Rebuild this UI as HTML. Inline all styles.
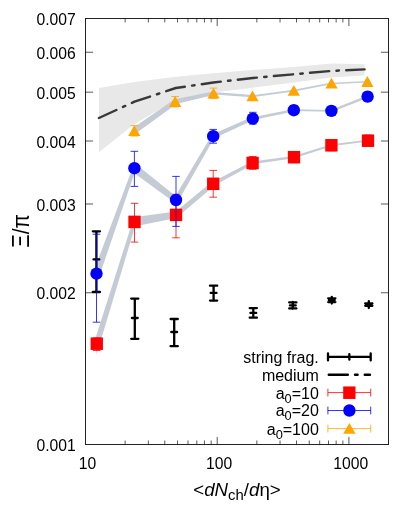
<!DOCTYPE html>
<html><head><meta charset="utf-8"><title>chart</title>
<style>html,body{margin:0;padding:0;background:#fff;}body{width:415px;height:519px;overflow:hidden;font-family:"Liberation Sans",sans-serif;}svg{display:block;will-change:transform;}</style></head>
<body>
<svg width="415" height="519" viewBox="0 0 415 519" font-family="'Liberation Sans', sans-serif" font-size="15.7" fill="#000">
<rect width="415" height="519" fill="#fff"/>
<polygon points="98.9,87.9 134.5,82.0 175.8,76.8 213.3,73.3 252.8,70.1 293.6,66.9 331.6,63.5 364.6,64.2 364.6,75.2 331.6,77.5 293.6,82.6 252.8,87.7 213.3,92.5 175.8,99.8 134.5,124.0 98.9,152.3" fill="#e8e8e8" fill-opacity="1"/>
<polygon points="99.57,344.46 136.32,222.36 132.68,221.24 94.03,342.74" fill="#c5cbd5"/>
<polygon points="135.25,226.24 176.54,218.00 175.46,211.60 133.75,217.36" fill="#c5cbd5"/>
<polygon points="177.73,216.87 214.61,185.39 211.79,182.01 174.27,212.73" fill="#c5cbd5"/>
<polygon points="214.13,185.47 253.35,164.31 251.85,161.49 212.27,181.93" fill="#c5cbd5"/>
<polygon points="252.79,164.29 294.17,158.29 293.83,155.91 252.41,161.51" fill="#c5cbd5"/>
<polygon points="294.35,158.20 331.73,146.25 331.07,144.15 293.65,156.00" fill="#c5cbd5"/>
<polygon points="331.52,146.19 368.12,141.54 367.88,139.66 331.28,144.21" fill="#c5cbd5"/>
<polygon points="96.2,348 97.8,348 96.7,355.6" fill="#c5cbd5"/>
<polygon points="99.79,274.78 136.00,168.78 132.80,167.62 93.21,272.42" fill="#c5cbd5"/>
<polygon points="131.91,171.46 174.24,202.30 177.76,197.70 136.89,164.94" fill="#c5cbd5"/>
<polygon points="178.16,201.26 214.75,137.11 211.65,135.29 173.84,198.74" fill="#c5cbd5"/>
<polygon points="214.09,138.21 253.47,120.11 252.13,117.09 212.31,134.19" fill="#c5cbd5"/>
<polygon points="253.08,119.97 294.05,111.42 293.55,108.98 252.52,117.23" fill="#c5cbd5"/>
<polygon points="293.78,111.10 331.38,111.80 331.42,110.00 293.82,109.30" fill="#c5cbd5"/>
<polygon points="331.82,111.97 368.02,97.67 367.18,95.53 330.98,109.83" fill="#c5cbd5"/>
<polygon points="136.10,133.33 176.65,103.74 173.75,99.66 132.50,128.27" fill="#c5cbd5"/>
<polygon points="175.71,104.04 213.87,95.01 213.13,91.59 174.69,99.36" fill="#c5cbd5"/>
<polygon points="213.41,94.60 252.42,97.20 252.58,95.00 213.59,92.00" fill="#c5cbd5"/>
<polygon points="252.63,97.09 293.92,91.49 293.68,89.71 252.37,95.11" fill="#c5cbd5"/>
<polygon points="293.96,91.43 331.65,84.19 331.35,82.61 293.64,89.77" fill="#c5cbd5"/>
<polygon points="331.54,84.15 367.43,82.40 367.37,81.00 331.46,82.65" fill="#c5cbd5"/>
<path d="M96.4 231.3V292.0M92.8 231.3H100.0M92.8 292.0H100.0M93.5 259.4H99.3" stroke="#000" stroke-width="2.3" stroke-linecap="round" fill="none"/>
<path d="M134.8 298.6V338.8M131.2 298.6H138.4M131.2 338.8H138.4M131.9 318.0H137.7" stroke="#000" stroke-width="2.3" stroke-linecap="round" fill="none"/>
<path d="M174.2 319.0V346.2M170.6 319.0H177.8M170.6 346.2H177.8M171.3 332.0H177.1" stroke="#000" stroke-width="2.3" stroke-linecap="round" fill="none"/>
<path d="M213.6 285.7V300.6M210.0 285.7H217.2M210.0 300.6H217.2M210.7 292.9H216.5" stroke="#000" stroke-width="2.3" stroke-linecap="round" fill="none"/>
<path d="M253.3 308.1V317.7M249.7 308.1H256.9M249.7 317.7H256.9M250.4 312.9H256.2" stroke="#000" stroke-width="2.3" stroke-linecap="round" fill="none"/>
<path d="M292.8 302.0V308.8M289.2 302.4H296.4M289.2 308.4H296.4M289.9 305.4H295.7" stroke="#000" stroke-width="2.3" stroke-linecap="round" fill="none"/>
<path d="M331.8 296.8V303.6M328.2 298.3H335.4M328.2 302.1H335.4M328.9 300.2H334.7" stroke="#000" stroke-width="2.3" stroke-linecap="round" fill="none"/>
<path d="M368.8 301.2V308.0M365.2 303.4H372.4M365.2 305.8H372.4M365.9 304.6H371.7" stroke="#000" stroke-width="2.3" stroke-linecap="round" fill="none"/>
<path d="M98.9 118.0 L134.5 101.7 L175.8 88.0 L213.3 82.5 L252.8 78.0 L293.6 74.3 L331.6 70.9 L364.6 69.4" stroke="#383838" stroke-width="2.45" fill="none" stroke-linecap="round" stroke-linejoin="round" stroke-dasharray="19.2 7.3 2.5 7.3"/>
<path d="M96.8 337.8V350.5M93.0 337.8H100.6M93.0 350.5H100.6" stroke="#ff0000" stroke-width="0.8" fill="none"/>
<rect x="90.65" y="337.45" width="12.3" height="12.5" fill="#ff0000"/>
<path d="M134.5 203.3V242.1M130.7 203.3H138.3M130.7 242.1H138.3" stroke="#ff0000" stroke-width="0.8" fill="none"/>
<rect x="128.35" y="215.65" width="12.3" height="12.5" fill="#ff0000"/>
<path d="M176.0 194.3V237.8M172.2 194.3H179.8M172.2 237.8H179.8" stroke="#ff0000" stroke-width="0.8" fill="none"/>
<rect x="169.85" y="208.65" width="12.3" height="12.5" fill="#ff0000"/>
<path d="M213.2 170.4V197.2M209.4 170.4H217.0M209.4 197.2H217.0" stroke="#ff0000" stroke-width="0.8" fill="none"/>
<rect x="207.05" y="177.55" width="12.3" height="12.5" fill="#ff0000"/>
<path d="M252.6 156.5V169.3M248.8 156.5H256.4M248.8 169.3H256.4" stroke="#ff0000" stroke-width="0.8" fill="none"/>
<rect x="246.45" y="156.75" width="12.3" height="12.5" fill="#ff0000"/>
<path d="M294.0 151.6V162.6M290.2 151.6H297.8M290.2 162.6H297.8" stroke="#ff0000" stroke-width="0.8" fill="none"/>
<rect x="287.85" y="150.95" width="12.3" height="12.5" fill="#ff0000"/>
<path d="M331.4 139.7V150.7M327.6 139.7H335.2M327.6 150.7H335.2" stroke="#ff0000" stroke-width="0.8" fill="none"/>
<rect x="325.25" y="139.05" width="12.3" height="12.5" fill="#ff0000"/>
<path d="M368.0 135.1V146.1M364.2 135.1H371.8M364.2 146.1H371.8" stroke="#ff0000" stroke-width="0.8" fill="none"/>
<rect x="361.85" y="134.45" width="12.3" height="12.5" fill="#ff0000"/>
<path d="M96.5 234.2V322.2M92.7 234.2H100.3M92.7 322.2H100.3" stroke="#0000ff" stroke-width="0.8" fill="none"/>
<circle cx="96.5" cy="273.6" r="6.2" fill="#0000ff"/>
<path d="M134.4 151.3V186.4M130.6 151.3H138.2M130.6 186.4H138.2" stroke="#0000ff" stroke-width="0.8" fill="none"/>
<circle cx="134.4" cy="168.2" r="6.2" fill="#0000ff"/>
<path d="M176.0 176.4V226.4M172.2 176.4H179.8M172.2 226.4H179.8" stroke="#0000ff" stroke-width="0.8" fill="none"/>
<circle cx="176.0" cy="200.0" r="6.2" fill="#0000ff"/>
<path d="M213.2 129.4V143.2M209.4 129.4H217.0M209.4 143.2H217.0" stroke="#0000ff" stroke-width="0.8" fill="none"/>
<circle cx="213.2" cy="136.2" r="6.2" fill="#0000ff"/>
<path d="M252.8 112.3V124.0M249.0 112.3H256.6M249.0 124.0H256.6" stroke="#0000ff" stroke-width="0.8" fill="none"/>
<circle cx="252.8" cy="118.6" r="6.2" fill="#0000ff"/>
<path d="M293.8 105.7V114.7M290.0 105.7H297.6M290.0 114.7H297.6" stroke="#0000ff" stroke-width="0.8" fill="none"/>
<circle cx="293.8" cy="110.2" r="6.2" fill="#0000ff"/>
<path d="M331.4 106.4V115.4M327.6 106.4H335.2M327.6 115.4H335.2" stroke="#0000ff" stroke-width="0.8" fill="none"/>
<circle cx="331.4" cy="110.9" r="6.2" fill="#0000ff"/>
<path d="M367.6 92.1V101.1M363.8 92.1H371.4M363.8 101.1H371.4" stroke="#0000ff" stroke-width="0.8" fill="none"/>
<circle cx="367.6" cy="96.6" r="6.2" fill="#0000ff"/>
<path d="M134.3 125.6V136.0M130.5 125.6H138.1M130.5 136.0H138.1" stroke="#ffa500" stroke-width="0.8" fill="none"/>
<polygon points="134.3,125.2 140.4,136.0 128.2,136.0" fill="#ffa500"/>
<path d="M175.2 96.5V106.9M171.4 96.5H179.0M171.4 106.9H179.0" stroke="#ffa500" stroke-width="0.8" fill="none"/>
<polygon points="175.2,96.1 181.3,106.9 169.1,106.9" fill="#ffa500"/>
<path d="M213.5 88.1V98.5M209.7 88.1H217.3M209.7 98.5H217.3" stroke="#ffa500" stroke-width="0.8" fill="none"/>
<polygon points="213.5,87.7 219.6,98.5 207.4,98.5" fill="#ffa500"/>
<polygon points="252.5,90.5 258.6,101.3 246.4,101.3" fill="#ffa500"/>
<polygon points="293.8,85.0 299.9,95.8 287.7,95.8" fill="#ffa500"/>
<polygon points="331.5,77.8 337.6,88.6 325.4,88.6" fill="#ffa500"/>
<polygon points="367.4,76.1 373.5,86.9 361.3,86.9" fill="#ffa500"/>
<rect x="85.5" y="18.5" width="303.0" height="426.0" fill="none" stroke="#222" stroke-width="1"/>
<path d="M85.5 292.76h7.6M388.5 292.76h-7.6M85.5 203.99h7.6M388.5 203.99h-7.6M85.5 141.01h7.6M388.5 141.01h-7.6M85.5 92.16h7.6M388.5 92.16h-7.6M85.5 52.25h7.6M388.5 52.25h-7.6M125.15 444.5v-4M125.15 18.5v4M148.34 444.5v-4M148.34 18.5v4M164.79 444.5v-4M164.79 18.5v4M177.55 444.5v-4M177.55 18.5v4M187.98 444.5v-4M187.98 18.5v4M196.80 444.5v-4M196.80 18.5v4M204.44 444.5v-4M204.44 18.5v4M211.17 444.5v-4M211.17 18.5v4M217.20 444.5v-7.6M217.20 18.5v7.6M256.85 444.5v-4M256.85 18.5v4M280.04 444.5v-4M280.04 18.5v4M296.49 444.5v-4M296.49 18.5v4M309.25 444.5v-4M309.25 18.5v4M319.68 444.5v-4M319.68 18.5v4M328.50 444.5v-4M328.50 18.5v4M336.14 444.5v-4M336.14 18.5v4M342.87 444.5v-4M342.87 18.5v4M348.90 444.5v-7.6M348.90 18.5v7.6" stroke="#000" stroke-width="0.65" fill="none"/>
<text x="75.7" y="451.0" text-anchor="end">0.001</text>
<text x="75.7" y="299.3" text-anchor="end">0.002</text>
<text x="75.7" y="210.5" text-anchor="end">0.003</text>
<text x="75.7" y="147.5" text-anchor="end">0.004</text>
<text x="75.7" y="98.7" text-anchor="end">0.005</text>
<text x="75.7" y="58.7" text-anchor="end">0.006</text>
<text x="75.7" y="25.0" text-anchor="end">0.007</text>
<text x="87.4" y="468.8" text-anchor="middle">10</text>
<text x="219.1" y="468.8" text-anchor="middle">100</text>
<text x="350.8" y="468.8" text-anchor="middle">1000</text>
<text x="237" y="495.8" text-anchor="middle" font-size="18.67">&lt;<tspan font-style="italic">dN</tspan><tspan font-size="14.9" dy="4.5">ch</tspan><tspan dy="-4.5">/</tspan><tspan font-style="italic">d</tspan>&#951;&gt;</text>
<text transform="translate(29.2 231.0) rotate(-90) scale(0.87 1)" text-anchor="middle" font-size="23.8">&#926;/&#960;</text>
<text x="318.8" y="362.8" text-anchor="end" font-size="16">string frag.</text>
<text x="318.8" y="380.6" text-anchor="end" font-size="16">medium</text>
<text x="318.8" y="398.5" text-anchor="end" font-size="16">a<tspan font-size="12.8" dy="4">0</tspan><tspan dy="-4">=10</tspan></text>
<text x="318.8" y="416.4" text-anchor="end" font-size="16">a<tspan font-size="12.8" dy="4">0</tspan><tspan dy="-4">=20</tspan></text>
<text x="318.8" y="434.5" text-anchor="end" font-size="16">a<tspan font-size="12.8" dy="4">0</tspan><tspan dy="-4">=100</tspan></text>
<path d="M328.0 356.9H370.7M328.0 353.4v7M370.7 353.4v7M349.35 354.09999999999997v5.6" stroke="#000" stroke-width="2.3" stroke-linecap="round" fill="none"/>
<path d="M328.8 374.7H369.9" stroke="#000" stroke-width="2.5" fill="none" stroke-linecap="round" stroke-dasharray="19 7.25 2.5 7.25"/>
<path d="M327.9 392.6H370.7M327.9 388.70000000000005v7.8M370.7 388.70000000000005v7.8" stroke="#ff0000" stroke-width="0.8" fill="none"/>
<path d="M327.9 410.5H370.7M327.9 406.6v7.8M370.7 406.6v7.8" stroke="#0000ff" stroke-width="0.8" fill="none"/>
<path d="M327.9 428.6H370.7M327.9 424.70000000000005v7.8M370.7 424.70000000000005v7.8" stroke="#ffa500" stroke-width="0.8" fill="none"/>
<rect x="343.20" y="386.45" width="12.3" height="12.5" fill="#ff0000"/>
<circle cx="349.4" cy="410.5" r="6.2" fill="#0000ff"/>
<polygon points="349.4,423.0 355.5,433.8 343.2,433.8" fill="#ffa500"/>
</svg>
</body></html>
